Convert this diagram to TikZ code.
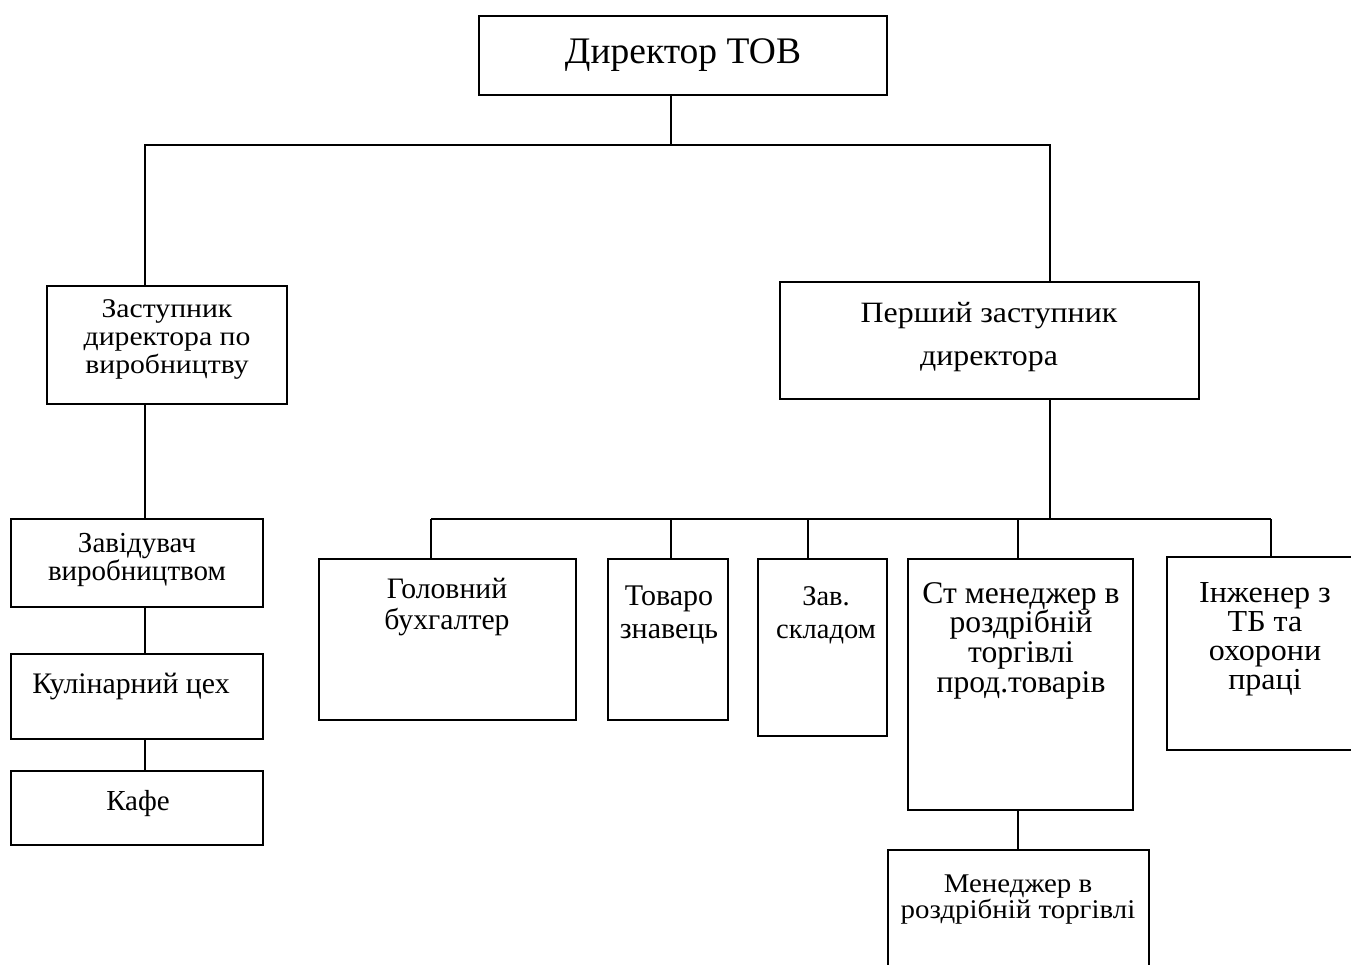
\documentclass[tikz,border=0pt]{standalone}
\usepackage{fontspec}
\setmainfont{Liberation Serif}
\newfontfamily\stretchA[FakeStretch=1.1]{Liberation Serif}
\newfontfamily\stretchB[FakeStretch=1.08]{Liberation Serif}
\newfontfamily\stretchC[FakeStretch=1.07]{Liberation Serif}
\newfontfamily\stretchD[FakeStretch=1.05]{Liberation Serif}
\lineskiplimit=-100pt
\newcommand{\fs}[2]{\fontsize{#1}{#2}\selectfont}
\newcommand{\tstrut}{\rule{0pt}{30pt}}
\begin{document}
\begin{tikzpicture}[x=1pt,y=-1pt,
  box/.style={draw, line width=1.5pt, inner sep=0pt, outer sep=0pt},
  conn/.style={line width=1.5pt},
  txt/.style={inner sep=0pt, outer sep=0pt, align=center}]
\clip (0,0) rectangle (1351,964);
\fill[white] (0,0) rectangle (1351,964);
% boxes
\node[box, minimum width=408pt, minimum height=79pt] (dir) at (683,55.5) {};
\node[box, minimum width=240pt, minimum height=118pt] (zast) at (167,345) {};
\node[box, minimum width=419pt, minimum height=117pt] (persh) at (989.5,340.5) {};
\node[box, minimum width=252pt, minimum height=88pt] (zavv) at (137,563) {};
\node[box, minimum width=252pt, minimum height=85pt] (kul) at (137,696.5) {};
\node[box, minimum width=252pt, minimum height=74pt] (kafe) at (137,808) {};
\node[box, minimum width=257pt, minimum height=161pt] (hol) at (447.5,639.5) {};
\node[box, minimum width=120pt, minimum height=161pt] (tov) at (668,639.5) {};
\node[box, minimum width=129pt, minimum height=177pt] (zavs) at (822.5,647.5) {};
\node[box, minimum width=225pt, minimum height=251pt] (st) at (1020.5,684.5) {};
\node[box, minimum width=195pt, minimum height=193pt] (inzh) at (1264.5,653.5) {};
\node[box, minimum width=261pt, minimum height=130pt] (men) at (1018.5,915) {};
% texts
\node[txt, anchor=base, font=\fs{37.5}{44}] (tdir) at (683,63) {Директор ТОВ};
\node[txt, anchor=north, font=\stretchA\fs{27}{28}] (tzast) at (167,287) {\tstrut Заступник\\директора по\\виробництву};
\node[txt, anchor=north, font=\stretchB\fs{29.5}{43}] (tpersh) at (989,292) {\tstrut Перший заступник\\директора};
\node[txt, anchor=north, font=\fs{29}{28}] (tzavv) at (137,522) {\tstrut Завідувач\\виробництвом};
\node[txt, anchor=base, font=\fs{29.8}{30}] (tkul) at (131,693) {Кулінарний цех};
\node[txt, anchor=base, font=\fs{29}{30}] (tkafe) at (138,810) {Кафе};
\node[txt, anchor=north, font=\fs{29.7}{31}] (thol) at (447,568) {\tstrut Головний\\бухгалтер};
\node[txt, anchor=north, font=\fs{30}{33}] (ttov) at (669,575) {\tstrut Товаро\\знавець};
\node[txt, anchor=north, font=\fs{28.5}{33}] (tzavs) at (826,575) {\tstrut Зав.\\складом};
\node[txt, anchor=north, font=\fs{31.6}{29.7}] (tst) at (1021,573) {\tstrut Ст менеджер в\\роздрібній\\торгівлі\\прод.товарів};
\node[txt, anchor=north, font=\stretchD\fs{30.5}{29}] (tinzh) at (1265,572) {\tstrut Інженер з\\ТБ та\\охорони\\праці};
\node[txt, anchor=north, font=\stretchC\fs{27}{26.5}] (tmen) at (1018,862) {\tstrut Менеджер в\\роздрібній торгівлі};
% connectors
\coordinate (j0) at (671,145);
\coordinate (jl) at (145,145);
\coordinate (jr) at (1050,145);
\draw[conn] (dir.south -| j0) -- (j0);
\draw[conn] (zast.north -| jl) -- (jl) -- (jr) -- (persh.north -| jr);
\coordinate (lx) at (145,0);
\draw[conn] (zast.south -| lx) -- (zavv.north -| lx);
\draw[conn] (zavv.south -| lx) -- (kul.north -| lx);
\draw[conn] (kul.south -| lx) -- (kafe.north -| lx);
\coordinate (rbus) at (1050,519);
\coordinate (bl) at (431,519);
\coordinate (b2) at (671,519);
\coordinate (b3) at (808,519);
\coordinate (b4) at (1018,519);
\coordinate (br) at (1271,519);
\draw[conn] (persh.south -| rbus) -- (rbus);
\draw[conn] (bl) -- (br);
\draw[conn] (hol.north -| bl) -- (bl);
\draw[conn] (tov.north -| b2) -- (b2);
\draw[conn] (zavs.north -| b3) -- (b3);
\draw[conn] (st.north -| b4) -- (b4);
\draw[conn] (inzh.north -| br) -- (br);
\draw[conn] (st.south -| b4) -- (men.north -| b4);
\end{tikzpicture}
\end{document}
